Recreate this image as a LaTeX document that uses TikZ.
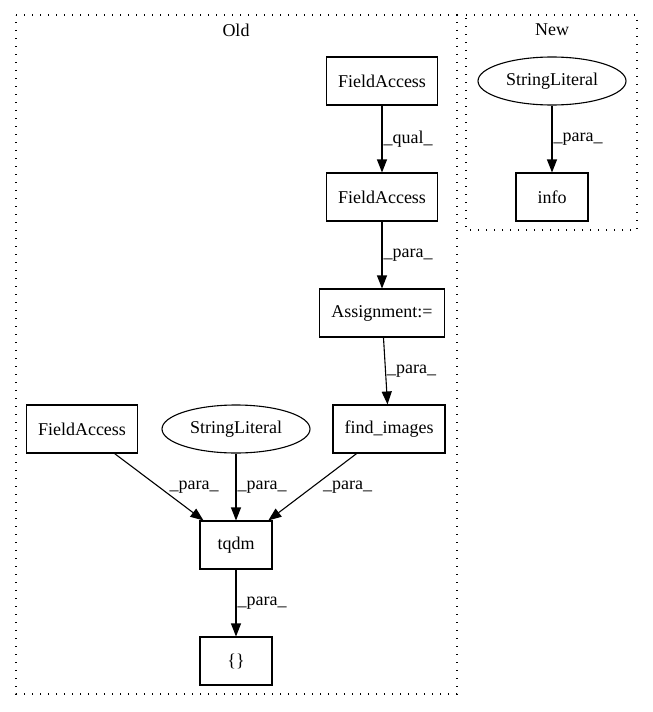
\documentclass[tikz,border=0pt]{standalone}
\usepackage{fontspec}
\setmainfont{Liberation Serif}
\usetikzlibrary{shapes.geometric,arrows.meta}

\tikzset{every picture/.style={line width=1.1pt}}
\tikzset{
	box/.style={draw, rectangle, minimum height=48pt, minimum width=72pt, inner xsep=11.5pt, font=\fontsize{18}{20}\selectfont},
	oval/.style={draw, ellipse, minimum height=48pt, minimum width=148pt, inner sep=0pt, font=\fontsize{18}{20}\selectfont},
	lbl/.style={right, inner sep=1pt, font=\fontsize{18}{20}\selectfont},
	cluster/.style={line width=1.3pt, dash pattern={on 1.3pt off 6.7pt}},
	edge/.style={-{Triangle[length=13pt,width=10pt]}}}

\begin{document}
\begin{tikzpicture}[x=1pt,y=1pt,yscale=-1,xscale=1]
	\useasboundingbox (0,0) rectangle (653,712);

	%Shape: Rectangle [id:old]
	\draw [cluster] (16,15) -- (457,15) -- (457,694) -- (16,694) -- cycle ;
	%Shape: Rectangle [id:new]
	\draw [cluster] (466,15) -- (637,15) -- (637,230) -- (466,230) -- cycle ;
	% Text Node
	\node [font=\fontsize{18}{20}\selectfont] (oldtitle) at (236,30) {Old};
	% Text Node
	\node [font=\fontsize{18}{20}\selectfont] (newtitle) at (552,30) {New};

	% Old nodes
	\node [box] (fieldaccessA) at (382,81) {FieldAccess};
	\node [box] (fieldaccessB) at (382,197) {FieldAccess};
	\node [box] (assignment) at (382,313) {Assignment:=};
	\node [box] (findimages) at (389,429) {find\_images};
	\node [box] (fieldaccessC) at (82,429) {FieldAccess};
	\node [oval] (stringlitA) at (236,429) {StringLiteral};
	\node [box] (tqdm) at (236,545) {tqdm};
	\node [box] (braces) at (236,661) {\{\}};

	% New nodes
	\node [oval] (stringlitB) at (552,81) {StringLiteral};
	\node [box] (info) at (552,197) {info};

	%Straight Lines
	\draw [edge] (fieldaccessA) -- node [lbl] {\_qual\_} (fieldaccessB) ;
	\draw [edge] (fieldaccessB) -- node [lbl] {\_para\_} (assignment) ;
	\draw [edge] (assignment) -- node [lbl] {\_para\_} (findimages) ;
	\draw [edge] (fieldaccessC) -- node [lbl, xshift=9pt] {\_para\_} (tqdm) ;
	\draw [edge] (stringlitA) -- node [lbl] {\_para\_} (tqdm) ;
	\draw [edge] (findimages) -- node [lbl, xshift=9pt] {\_para\_} (tqdm) ;
	\draw [edge] (tqdm) -- node [lbl] {\_para\_} (braces) ;
	\draw [edge] (stringlitB) -- node [lbl] {\_para\_} (info) ;

\end{tikzpicture}
\end{document}
